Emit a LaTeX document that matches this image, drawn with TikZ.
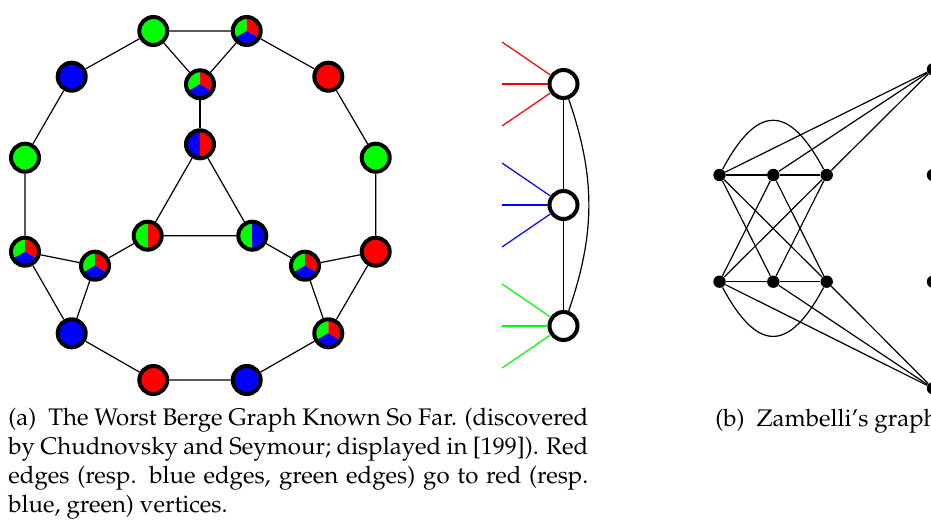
\documentclass[tikz,border=0pt]{standalone}
\usepackage[T1]{fontenc}
\usepackage{mathpazo}

\begin{document}
\begin{tikzpicture}[
  x=0.5pt, y=-0.5pt,
  vtx/.style={circle, draw, line width=2pt, minimum size=14pt, inner sep=0pt},
  mono/.style={vtx, fill=#1},
  half/.style 2 args={vtx, path picture={
    \fill[#1] (path picture bounding box.south west) rectangle (path picture bounding box.north);
    \fill[#2] (path picture bounding box.north east) rectangle (path picture bounding box.south);}},
  tri/.style={vtx, path picture={
    \fill[green] (path picture bounding box.center) -- +(90:20pt) -- +(150:20pt) -- +(210:20pt) -- cycle;
    \fill[red] (path picture bounding box.center) -- +(90:20pt) -- +(30:20pt) -- +(-30:20pt) -- cycle;
    \fill[blue] (path picture bounding box.center) -- +(210:20pt) -- +(270:20pt) -- +(330:20pt) -- cycle;}},
  gad/.style={vtx, fill=white},
  blob/.style={circle, fill, inner sep=0pt, minimum size=6.2pt},
  link/.style={line width=0.6pt},
  fan/.style={line width=0.6pt, draw=#1},
  capt/.style={inner sep=0pt, font=\fontsize{12}{14.5}\selectfont}
]
\useasboundingbox (0,0) rectangle (931,524);

% Berge graph: outer ring
\node[mono=green] (topl) at (153.3,31) {};
\node[tri] (topr) at (246.7,31) {};
\node[mono=blue] (upl) at (71.7,76.7) {};
\node[mono=red] (upr) at (328.3,76.7) {};
\node[mono=green] (midl) at (25,157.7) {};
\node[mono=green] (midr) at (375.7,157.7) {};
\node[tri] (lowl) at (25,251.7) {};
\node[mono=red] (lowr) at (375.7,251.7) {};
\node[mono=blue] (botl) at (71.7,333.3) {};
\node[tri] (botr) at (328.3,333.3) {};
\node[mono=red] (basel) at (153.3,380) {};
\node[mono=blue] (baser) at (246.7,380) {};

% Berge graph: inner vertices
\node[tri] (inup) at (200,84.3) {};
\node[half={blue}{red}] (core) at (200,144.3) {};
\node[half={green}{red}] (inl) at (147.7,235.7) {};
\node[half={green}{blue}] (inr) at (252.3,235.7) {};
\node[tri] (lowil) at (95,265.7) {};
\node[tri] (lowir) at (305,265.7) {};

% Ring edges
\draw[link] (topl) -- (topr) -- (upr) -- (midr) -- (lowr) -- (botr) -- (baser)
  -- (basel) -- (botl) -- (lowl) -- (midl) -- (upl) -- (topl);

% Triangles
\draw[link] (topl) -- (inup) -- (topr);
\draw[link] (lowl) -- (lowil) -- (botl);
\draw[link] (lowr) -- (lowir) -- (botr);

% Inner edges
\draw[link] (inup) -- (core);
\draw[link] (core) -- (inl) -- (inr) -- (core);
\draw[link] (inl) -- (lowil);
\draw[link] (inr) -- (lowir);

% Gadget
\node[gad] (gadr) at (563.5,84) {};
\node[gad] (gadb) at (563.5,205) {};
\node[gad] (gadg) at (563.5,326) {};
\coordinate (rin1) at (502,42);
\coordinate (rin2) at (502,84);
\coordinate (rin3) at (502,126);
\coordinate (bin1) at (502,163);
\coordinate (bin2) at (502,205);
\coordinate (bin3) at (502,247);
\coordinate (gin1) at (502,284);
\coordinate (gin2) at (502,326);
\coordinate (gin3) at (502,368);
\draw[fan=red] (rin1) -- (gadr);
\draw[fan=red] (rin2) -- (gadr);
\draw[fan=red] (rin3) -- (gadr);
\draw[fan=blue] (bin1) -- (gadb);
\draw[fan=blue] (bin2) -- (gadb);
\draw[fan=blue] (bin3) -- (gadb);
\draw[fan=green] (gin1) -- (gadg);
\draw[fan=green] (gin2) -- (gadg);
\draw[fan=green] (gin3) -- (gadg);
\draw[link] (gadr) -- (gadb) -- (gadg);
\draw[link] (gadr) to[bend left=19] (gadg);

% Zambelli's graph
\node[blob] (za1) at (719.5,175) {};
\node[blob] (za2) at (773.3,175) {};
\node[blob] (za3) at (826.7,175) {};
\node[blob] (zb1) at (719.5,281.7) {};
\node[blob] (zb2) at (773.3,281.7) {};
\node[blob] (zb3) at (826.7,281.7) {};
\node[blob] (zt) at (933,69.3) {};
\node[blob] (zu) at (933,175) {};
\node[blob] (zv) at (933,281.7) {};
\node[blob] (zw) at (933,388.3) {};
\draw[link] (za1) -- (za2) -- (za3);
\draw[link] (zb1) -- (zb2) -- (zb3);
\draw[link] (za1) -- (zb2);
\draw[link] (za1) -- (zb3);
\draw[link] (za2) -- (zb1);
\draw[link] (za2) -- (zb3);
\draw[link] (za3) -- (zb1);
\draw[link] (za3) -- (zb2);
\draw[link] (za1) .. controls +(38,-71) and +(-38,-71) .. (za3);
\draw[link] (zb1) .. controls +(38,71) and +(-38,71) .. (zb3);
\draw[link] (za1) -- (zt);
\draw[link] (za2) -- (zt);
\draw[link] (za3) -- (zt);
\draw[link] (zb1) -- (zw);
\draw[link] (zb2) -- (zw);
\draw[link] (zb3) -- (zw);

% Captions
\node[capt, text width=290pt, align=justify, anchor=north west] (capa) at (8,408)
  {(a)\enspace The Worst Berge Graph Known So Far. (discovered\linebreak
   by Chudnovsky and Seymour; displayed in [199]). Red\linebreak
   edges (resp. blue edges, green edges) go to red (resp.\linebreak
   blue, green) vertices.};
\node[capt, anchor=base west] (capb) at (715,426) {(b)\enspace Zambelli's graph};

\end{tikzpicture}
\end{document}
